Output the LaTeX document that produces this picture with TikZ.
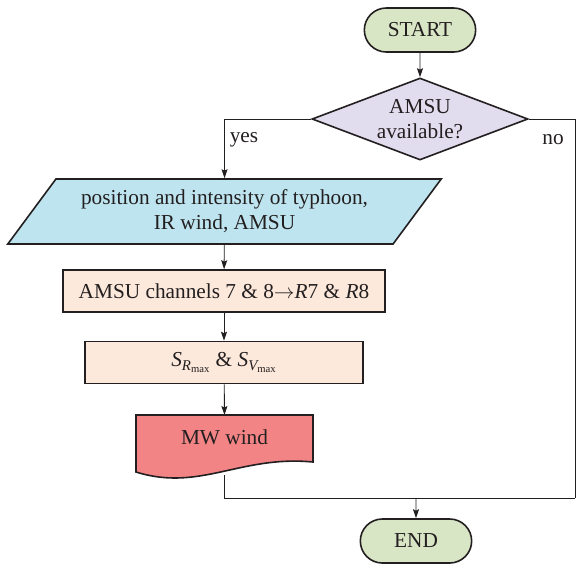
\documentclass[tikz,border=0pt]{standalone}
\usepackage{amsmath}
\usepackage{fontspec}
\setmainfont{Liberation Serif}
\usepackage{xcolor}
\usepackage{tikz}
\usetikzlibrary{arrows.meta, positioning, shapes.geometric, shapes.misc, calc}

\definecolor{termfill}{HTML}{D9E6C6}
\definecolor{decfill}{HTML}{E2DDEE}
\definecolor{infill}{HTML}{BEE5EF}
\definecolor{procfill}{HTML}{FDE9DB}
\definecolor{docfill}{HTML}{F28486}
\definecolor{inkgray}{HTML}{231F20}

\begin{document}
\begin{tikzpicture}[
  x=1pt, y=1pt,
  >={Stealth[length=9pt, width=6pt, inset=1.5pt]},
  every node/.style={text=inkgray, font=\fontsize{21.3}{25}\selectfont},
  term/.style={rounded rectangle, draw=inkgray, line width=1.6pt, fill=termfill,
    minimum width=118pt, minimum height=44pt},
  dec/.style={diamond, draw=inkgray, line width=1.6pt, fill=decfill, aspect=2.6,
    inner sep=0pt, minimum width=216pt, minimum height=82pt, align=center},
  inp/.style={trapezium, trapezium left angle=50, trapezium right angle=130,
    trapezium stretches=true, draw=inkgray, line width=1.6pt, fill=infill,
    minimum width=435pt, minimum height=65pt, align=center},
  proc/.style={rectangle, draw=inkgray, line width=1.6pt, fill=procfill,
    minimum height=42pt},
  link/.style={draw=inkgray, line width=0.9pt}
]
  \useasboundingbox (0,0) rectangle (576,-566);

  \node[term] (start) at (420,-30) {START};
  \node[dec] (avail) at (420,-119) {AMSU\\available?};
  \node[inp] (input) at (224.5,-211.5) {position and intensity of typhoon,\\IR wind, AMSU};
  \node[proc, minimum width=322pt] (chan) at (224,-291)
    {AMSU channels 7 \& 8$\rightarrow$\textit{R}7 \& \textit{R}8};
  \node[proc, minimum width=278pt] (smax) at (224,-362.5)
    {$\textit{S}_{\textit{R}_{\text{max}}}$ \& $\textit{S}_{\textit{V}_{\text{max}}}$};

  % document shape for the MW wind output
  \draw[line width=1.6pt, draw=inkgray, fill=docfill]
    (136,-415) -- (313,-415) -- (313,-462)
    .. controls (240,-455) and (200,-492) .. (136,-472) -- cycle;
  \node[minimum width=177pt, minimum height=44pt] (mw) at (224.5,-437) {MW wind};
  \coordinate (mwb) at (224.5,-475);

  \node[term] (end) at (416,-541) {END};

  \coordinate (rt) at (575,-498);
  \coordinate (join) at (416,-498);

  \draw[link, ->] (start) -- (avail);
  \draw[link, ->] (avail.west) -| (input.north);
  \draw[link, ->] (input) -- (chan);
  \draw[link, ->] (chan) -- (smax);
  \draw[link, ->] (smax) -- (mw.north |- 0,-415);
  \draw[link] (avail.east) -| (rt);
  \draw[link] (mwb) |- (rt);
  \draw[link, ->] (join) -- (end);

  \node (yes) at (244,-140) {yes};
  \node (no) at (553,-140) {no};
\end{tikzpicture}
\end{document}
